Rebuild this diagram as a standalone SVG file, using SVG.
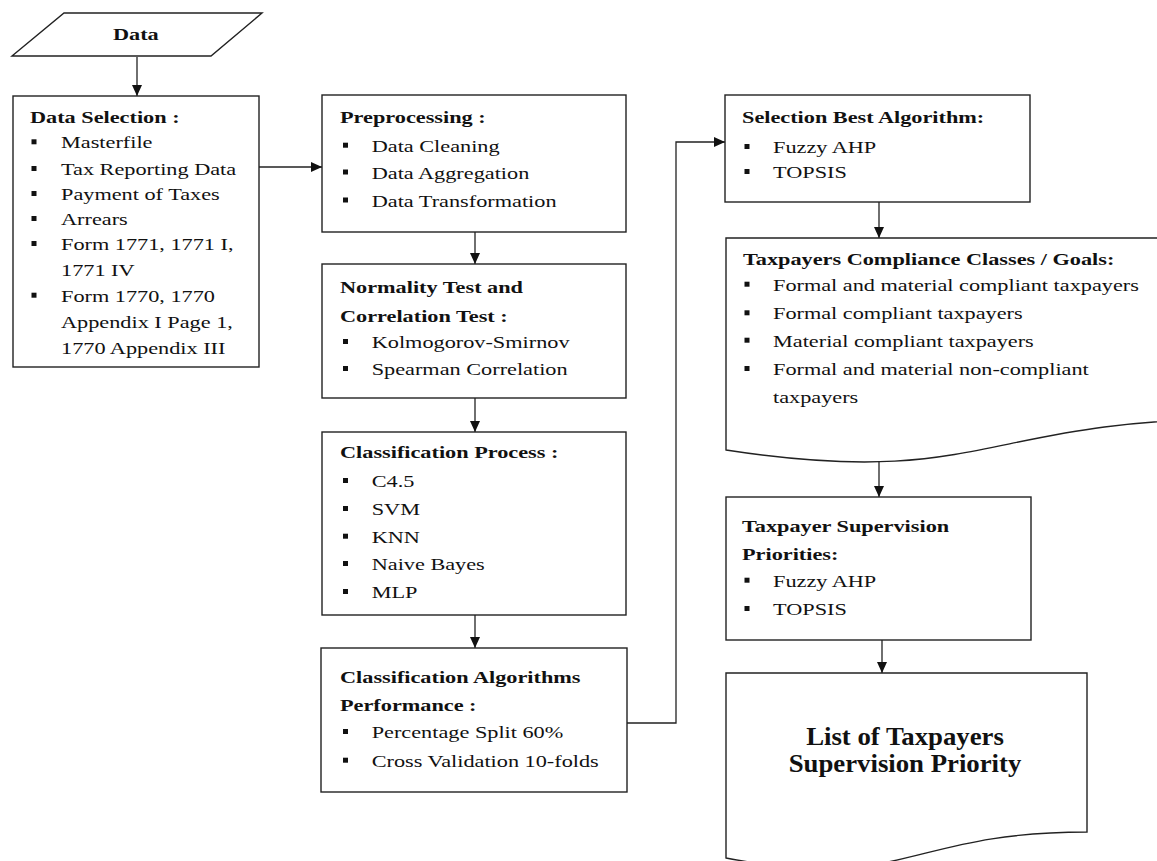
<svg xmlns="http://www.w3.org/2000/svg" width="1157" height="861" viewBox="0 0 1157 861">
<style>
.t{font-family:"Liberation Serif","Times New Roman",serif;font-size:17px;fill:#111}
.b{font-weight:bold}
.big{font-family:"Liberation Serif","Times New Roman",serif;font-size:25.5px;font-weight:bold;fill:#111;text-anchor:middle}
.box{fill:#fff;stroke:#222;stroke-width:1.4}
.conn{fill:none;stroke:#222;stroke-width:1.3}
.bul{fill:#111}
</style>
<defs>
<marker id="ah" markerUnits="userSpaceOnUse" markerWidth="12" markerHeight="12" viewBox="0 0 12 12" refX="11" refY="6" orient="auto">
<path d="M0,1 L11,6 L0,11 Z" fill="#111"/>
</marker>
<rect id="bl" width="5" height="5" class="bul"/>
</defs>
<rect width="1157" height="861" fill="#fff"/>

<g id="connectors">
<path class="conn" d="M137,57 V96" marker-end="url(#ah)"/>
<path class="conn" d="M259,167 H322" marker-end="url(#ah)"/>
<path class="conn" d="M475,232 V264" marker-end="url(#ah)"/>
<path class="conn" d="M475,398 V432" marker-end="url(#ah)"/>
<path class="conn" d="M475,615 V648" marker-end="url(#ah)"/>
<path class="conn" d="M627,723 H676 V142 H725" marker-end="url(#ah)"/>
<path class="conn" d="M879,202 V238" marker-end="url(#ah)"/>
<path class="conn" d="M879,462 V497" marker-end="url(#ah)"/>
<path class="conn" d="M882,640 V673" marker-end="url(#ah)"/>
</g>

<g id="data">
<polygon class="box" points="64,13 262,13 211,56 12,56"/>
<text class="t b" transform="translate(113 40) scale(1.31 1)">Data</text>
</g>

<g id="data-selection">
<rect class="box" x="13" y="96" width="246" height="271"/>
<text class="t b" transform="translate(30 122.5) scale(1.31 1)">Data Selection :</text>
<use href="#bl" x="31.5" y="139.3"/>
<text class="t" transform="translate(61 148.3) scale(1.31 1)">Masterfile</text>
<use href="#bl" x="31.5" y="166"/>
<text class="t" transform="translate(61 175) scale(1.31 1)">Tax Reporting Data</text>
<use href="#bl" x="31.5" y="191"/>
<text class="t" transform="translate(61 200) scale(1.31 1)">Payment of Taxes</text>
<use href="#bl" x="31.5" y="216"/>
<text class="t" transform="translate(61 225) scale(1.31 1)">Arrears</text>
<use href="#bl" x="31.5" y="241"/>
<text class="t" transform="translate(61 250) scale(1.31 1)">Form 1771, 1771 I,</text>
<text class="t" transform="translate(61 276) scale(1.31 1)">1771 IV</text>
<use href="#bl" x="31.5" y="292.7"/>
<text class="t" transform="translate(61 301.7) scale(1.31 1)">Form 1770, 1770</text>
<text class="t" transform="translate(61 328.3) scale(1.31 1)">Appendix I Page 1,</text>
<text class="t" transform="translate(61 354) scale(1.31 1)">1770 Appendix III</text>
</g>

<g id="preprocessing">
<rect class="box" x="322" y="95" width="304" height="137"/>
<text class="t b" transform="translate(340 123) scale(1.31 1)">Preprocessing :</text>
<use href="#bl" x="343" y="142.7"/>
<text class="t" transform="translate(371.7 151.7) scale(1.31 1)">Data Cleaning</text>
<use href="#bl" x="343" y="169.5"/>
<text class="t" transform="translate(371.7 178.5) scale(1.31 1)">Data Aggregation</text>
<use href="#bl" x="343" y="197.5"/>
<text class="t" transform="translate(371.7 206.5) scale(1.31 1)">Data Transformation</text>
</g>

<g id="normality">
<rect class="box" x="322" y="264" width="304" height="134"/>
<text class="t b" transform="translate(340 293) scale(1.31 1)">Normality Test and</text>
<text class="t b" transform="translate(340 321.5) scale(1.31 1)">Correlation Test :</text>
<use href="#bl" x="343" y="339"/>
<text class="t" transform="translate(371.7 348) scale(1.31 1)">Kolmogorov-Smirnov</text>
<use href="#bl" x="343" y="366"/>
<text class="t" transform="translate(371.7 375) scale(1.31 1)">Spearman Correlation</text>
</g>

<g id="classification-process">
<rect class="box" x="322" y="432" width="304" height="183"/>
<text class="t b" transform="translate(340 458) scale(1.31 1)">Classification Process :</text>
<use href="#bl" x="343" y="478"/>
<text class="t" transform="translate(371.7 487) scale(1.31 1)">C4.5</text>
<use href="#bl" x="343" y="506"/>
<text class="t" transform="translate(371.7 515) scale(1.31 1)">SVM</text>
<use href="#bl" x="343" y="533.7"/>
<text class="t" transform="translate(371.7 542.7) scale(1.31 1)">KNN</text>
<use href="#bl" x="343" y="561"/>
<text class="t" transform="translate(371.7 570) scale(1.31 1)">Naive Bayes</text>
<use href="#bl" x="343" y="589"/>
<text class="t" transform="translate(371.7 598) scale(1.31 1)">MLP</text>
</g>

<g id="classification-performance">
<rect class="box" x="321" y="648" width="306" height="144"/>
<text class="t b" transform="translate(340 682.7) scale(1.31 1)">Classification Algorithms</text>
<text class="t b" transform="translate(340 711) scale(1.31 1)">Performance :</text>
<use href="#bl" x="343" y="729"/>
<text class="t" transform="translate(371.7 738) scale(1.31 1)">Percentage Split 60%</text>
<use href="#bl" x="343" y="757.7"/>
<text class="t" transform="translate(371.7 766.7) scale(1.31 1)">Cross Validation 10-folds</text>
</g>

<g id="selection-best">
<rect class="box" x="725" y="95" width="305" height="107"/>
<text class="t b" transform="translate(742 123.3) scale(1.31 1)">Selection Best Algorithm:</text>
<use href="#bl" x="744.5" y="144"/>
<text class="t" transform="translate(773 153) scale(1.31 1)">Fuzzy AHP</text>
<use href="#bl" x="744.5" y="169"/>
<text class="t" transform="translate(773 178) scale(1.31 1)">TOPSIS</text>
</g>

<g id="compliance-classes">
<path class="box" d="M726,238 H1240 V419 C983,419 983,489.4 726,450 Z"/>
<text class="t b" transform="translate(743 265) scale(1.31 1)">Taxpayers Compliance Classes / Goals:</text>
<use href="#bl" x="744.5" y="281.7"/>
<text class="t" transform="translate(773 290.7) scale(1.31 1)">Formal and material compliant taxpayers</text>
<use href="#bl" x="744.5" y="310.3"/>
<text class="t" transform="translate(773 319.3) scale(1.31 1)">Formal compliant taxpayers</text>
<use href="#bl" x="744.5" y="337.7"/>
<text class="t" transform="translate(773 346.7) scale(1.31 1)">Material compliant taxpayers</text>
<use href="#bl" x="744.5" y="366"/>
<text class="t" transform="translate(773 375) scale(1.31 1)">Formal and material non-compliant</text>
<text class="t" transform="translate(773 403.3) scale(1.31 1)">taxpayers</text>
</g>

<g id="supervision-priorities">
<rect class="box" x="726" y="497" width="305" height="143"/>
<text class="t b" transform="translate(742 531.7) scale(1.31 1)">Taxpayer Supervision</text>
<text class="t b" transform="translate(742 560) scale(1.31 1)">Priorities:</text>
<use href="#bl" x="744.5" y="577.7"/>
<text class="t" transform="translate(773 586.7) scale(1.31 1)">Fuzzy AHP</text>
<use href="#bl" x="744.5" y="606"/>
<text class="t" transform="translate(773 615) scale(1.31 1)">TOPSIS</text>
</g>

<g id="priority-list">
<path class="box" d="M726,673 H1087 V832 C906.5,832 906.5,892.3 726,858 Z"/>
<text class="big" transform="translate(905 745) scale(1.05 1)">List of Taxpayers</text>
<text class="big" transform="translate(905 771.7) scale(1.05 1)">Supervision Priority</text>
</g>
</svg>
